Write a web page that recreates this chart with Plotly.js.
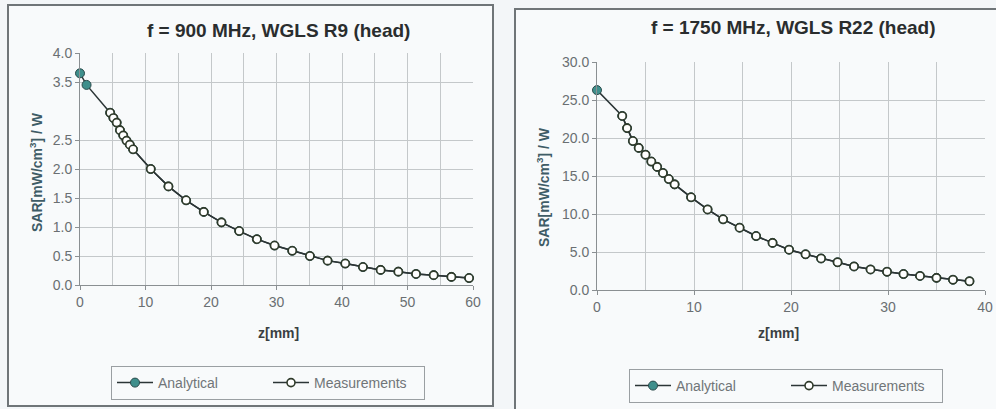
<!DOCTYPE html>
<html>
<head>
<meta charset="utf-8">
<script src="https://cdn.plot.ly/plotly-3.0.1.min.js"></script>
<style>
html,body{margin:0;padding:0;background:#f3f6f8;}
#chart{width:996px;height:409px;}
</style>
</head>
<body>
<div id="chart"></div>
<script>
// ---- Left chart: f = 900 MHz, WGLS R9 (head) ----
const z900Analytical = [0, 1, 4.6, 5.1, 5.6, 6.1, 6.6, 7.1, 7.6, 8.1, 10.8, 13.5, 16.2, 18.9, 21.6, 24.3, 27.0, 29.7, 32.4, 35.1, 37.8, 40.5, 43.2, 45.9, 48.6, 51.3, 54.0, 56.7, 59.4];
const sar900Analytical = [3.65, 3.45, 2.97, 2.88, 2.80, 2.67, 2.58, 2.49, 2.42, 2.34, 2.00, 1.70, 1.46, 1.26, 1.08, 0.93, 0.79, 0.68, 0.59, 0.50, 0.42, 0.37, 0.31, 0.26, 0.23, 0.19, 0.17, 0.14, 0.12];
const z900Meas = [4.6, 5.1, 5.6, 6.1, 6.6, 7.1, 7.6, 8.1, 10.8, 13.5, 16.2, 18.9, 21.6, 24.3, 27.0, 29.7, 32.4, 35.1, 37.8, 40.5, 43.2, 45.9, 48.6, 51.3, 54.0, 56.7, 59.4];
const sar900Meas = [2.97, 2.88, 2.80, 2.67, 2.58, 2.49, 2.42, 2.34, 2.00, 1.70, 1.46, 1.26, 1.08, 0.93, 0.79, 0.68, 0.59, 0.50, 0.42, 0.37, 0.31, 0.26, 0.23, 0.19, 0.17, 0.14, 0.12];
const yTicks900 = [0, 0.5, 1.0, 1.5, 2.0, 2.5, 3.5, 4.0];
const xTicks900 = [0, 10, 20, 30, 40, 50, 60];

// ---- Right chart: f = 1750 MHz, WGLS R22 (head) ----
const z1750Analytical = [0, 2.6, 3.1, 3.7, 4.3, 5.0, 5.6, 6.2, 6.8, 7.4, 8.0, 9.7, 11.4, 13.0, 14.7, 16.4, 18.1, 19.8, 21.5, 23.1, 24.8, 26.5, 28.2, 29.9, 31.6, 33.3, 35.0, 36.7, 38.4];
const sar1750Analytical = [26.3, 22.9, 21.3, 19.6, 18.7, 17.8, 16.9, 16.2, 15.4, 14.6, 13.9, 12.2, 10.6, 9.3, 8.2, 7.1, 6.2, 5.3, 4.7, 4.15, 3.65, 3.1, 2.7, 2.4, 2.1, 1.85, 1.6, 1.35, 1.15];
const z1750Meas = [2.6, 3.1, 3.7, 4.3, 5.0, 5.6, 6.2, 6.8, 7.4, 8.0, 9.7, 11.4, 13.0, 14.7, 16.4, 18.1, 19.8, 21.5, 23.1, 24.8, 26.5, 28.2, 29.9, 31.6, 33.3, 35.0, 36.7, 38.4];
const sar1750Meas = [22.9, 21.3, 19.6, 18.7, 17.8, 16.9, 16.2, 15.4, 14.6, 13.9, 12.2, 10.6, 9.3, 8.2, 7.1, 6.2, 5.3, 4.7, 4.15, 3.65, 3.1, 2.7, 2.4, 2.1, 1.85, 1.6, 1.35, 1.15];
const yTicks1750 = [0, 5, 10, 15, 20, 25, 30];
const xTicks1750 = [0, 10, 20, 30, 40];

const seriesNames = ['Analytical', 'Measurements'];
const titles = ['f = 900 MHz, WGLS R9 (head)', 'f = 1750 MHz, WGLS R22 (head)'];
const xTitle = 'z[mm]';
const yTitle = 'SAR[mW/cm<sup>3</sup>] / W';

const W = 996, H = 409;
const px = v => v / W;
const py = v => 1 - v / H;

const font = 'Liberation Sans, Arial, sans-serif';
const lineCol = '#2b3536';
const analyticalFill = '#3f8f8c';

function analytical(x, y, xa, ya, leg) {
  return {x, y, xaxis: xa, yaxis: ya, type: 'scatter', mode: 'lines+markers', name: seriesNames[0],
    legend: leg, cliponaxis: false,
    line: {color: lineCol, width: 1.5},
    marker: {symbol: 'circle', size: 9, color: analyticalFill, line: {color: '#2a4a4a', width: 1}}};
}
function measured(x, y, xa, ya, leg) {
  return {x, y, xaxis: xa, yaxis: ya, type: 'scatter', mode: 'lines+markers', name: seriesNames[1],
    legend: leg, cliponaxis: false,
    line: {color: lineCol, width: 1.5},
    marker: {symbol: 'circle', size: 8, color: '#ffffff', line: {color: '#2f3a2a', width: 1.6}}};
}

const data = [
  analytical(z900Analytical, sar900Analytical, 'x', 'y', 'legend'),
  measured(z900Meas, sar900Meas, 'x', 'y', 'legend'),
  analytical(z1750Analytical, sar1750Analytical, 'x2', 'y2', 'legend2'),
  measured(z1750Meas, sar1750Meas, 'x2', 'y2', 'legend2')
];

const axisCommon = {
  showgrid: true, gridcolor: '#c4c8ca', gridwidth: 1,
  showline: true, linecolor: '#8a8f92', linewidth: 1,
  ticks: 'outside', ticklen: 4, tickcolor: '#8a8f92',
  tickfont: {family: font, size: 14, color: '#6a6f72'},
  zeroline: false, fixedrange: true
};

const legendCommon = {
  orientation: 'h', xanchor: 'center', yanchor: 'middle',
  bgcolor: 'rgba(0,0,0,0)', bordercolor: '#9a9fa2', borderwidth: 1,
  font: {family: font, size: 14, color: '#707578'},
  entrywidth: 105, entrywidthmode: 'pixels', itemwidth: 36
};

const layout = {
  width: W, height: H,
  margin: {l: 0, r: 0, t: 0, b: 0},
  paper_bgcolor: '#f3f6f8',
  plot_bgcolor: 'rgba(0,0,0,0)',
  showlegend: true,
  xaxis: Object.assign({}, axisCommon, {domain: [px(80), px(473)], range: [0, 60], tickvals: xTicks900, anchor: 'y',
    minor: {tickvals: [5, 15, 25, 35, 45, 55], showgrid: true, gridcolor: '#c4c8ca', ticks: ''}}),
  yaxis: Object.assign({}, axisCommon, {domain: [py(285), py(53)], range: [0, 4], tickvals: yTicks900, tickformat: '.1f', anchor: 'x'}),
  xaxis2: Object.assign({}, axisCommon, {domain: [px(597), px(985)], range: [0, 40], tickvals: xTicks1750, anchor: 'y2',
    minor: {tickvals: [5, 15, 25, 35], showgrid: true, gridcolor: '#c4c8ca', ticks: ''}}),
  yaxis2: Object.assign({}, axisCommon, {domain: [py(290), py(62)], range: [0, 30], tickvals: yTicks1750, tickformat: '.1f', anchor: 'x2'}),
  legend: Object.assign({}, legendCommon, {x: px(268), y: py(383)}),
  legend2: Object.assign({}, legendCommon, {x: px(786), y: py(386)}),
  shapes: [
    {type: 'rect', xref: 'paper', yref: 'paper', x0: px(8), x1: px(493), y0: py(406), y1: py(5),
      line: {color: '#6f7578', width: 2}, fillcolor: '#f8fafb', layer: 'below'},
    {type: 'rect', xref: 'paper', yref: 'paper', x0: px(515), x1: px(1002), y0: py(412), y1: py(9),
      line: {color: '#6f7578', width: 2}, fillcolor: '#f8fafb', layer: 'below'}
  ],
  annotations: [
    {text: titles[0], xref: 'paper', yref: 'paper', x: px(278), y: py(30), xanchor: 'center', yanchor: 'middle',
      showarrow: false, font: {family: font, size: 19, color: '#2a2d2e', weight: 'bold'}},
    {text: titles[1], xref: 'paper', yref: 'paper', x: px(793), y: py(28), xanchor: 'center', yanchor: 'middle',
      showarrow: false, font: {family: font, size: 19, color: '#2a2d2e', weight: 'bold'}},
    {text: '<b>' + xTitle + '</b>', xref: 'paper', yref: 'paper', x: px(278), y: py(333), xanchor: 'center', yanchor: 'middle',
      showarrow: false, font: {family: font, size: 14, color: '#3a3f42'}},
    {text: '<b>' + xTitle + '</b>', xref: 'paper', yref: 'paper', x: px(778), y: py(333), xanchor: 'center', yanchor: 'middle',
      showarrow: false, font: {family: font, size: 14, color: '#3a3f42'}},
    {text: '<b>' + yTitle + '</b>', xref: 'paper', yref: 'paper', x: px(36), y: py(172), xanchor: 'center', yanchor: 'middle',
      textangle: -90, showarrow: false, font: {family: font, size: 14, color: '#3e5c66'}},
    {text: '<b>' + yTitle + '</b>', xref: 'paper', yref: 'paper', x: px(543), y: py(187), xanchor: 'center', yanchor: 'middle',
      textangle: -90, showarrow: false, font: {family: font, size: 14, color: '#3e5c66'}}
  ]
};

Plotly.newPlot('chart', data, layout, {staticPlot: true, displayModeBar: false});
</script>
</body>
</html>
